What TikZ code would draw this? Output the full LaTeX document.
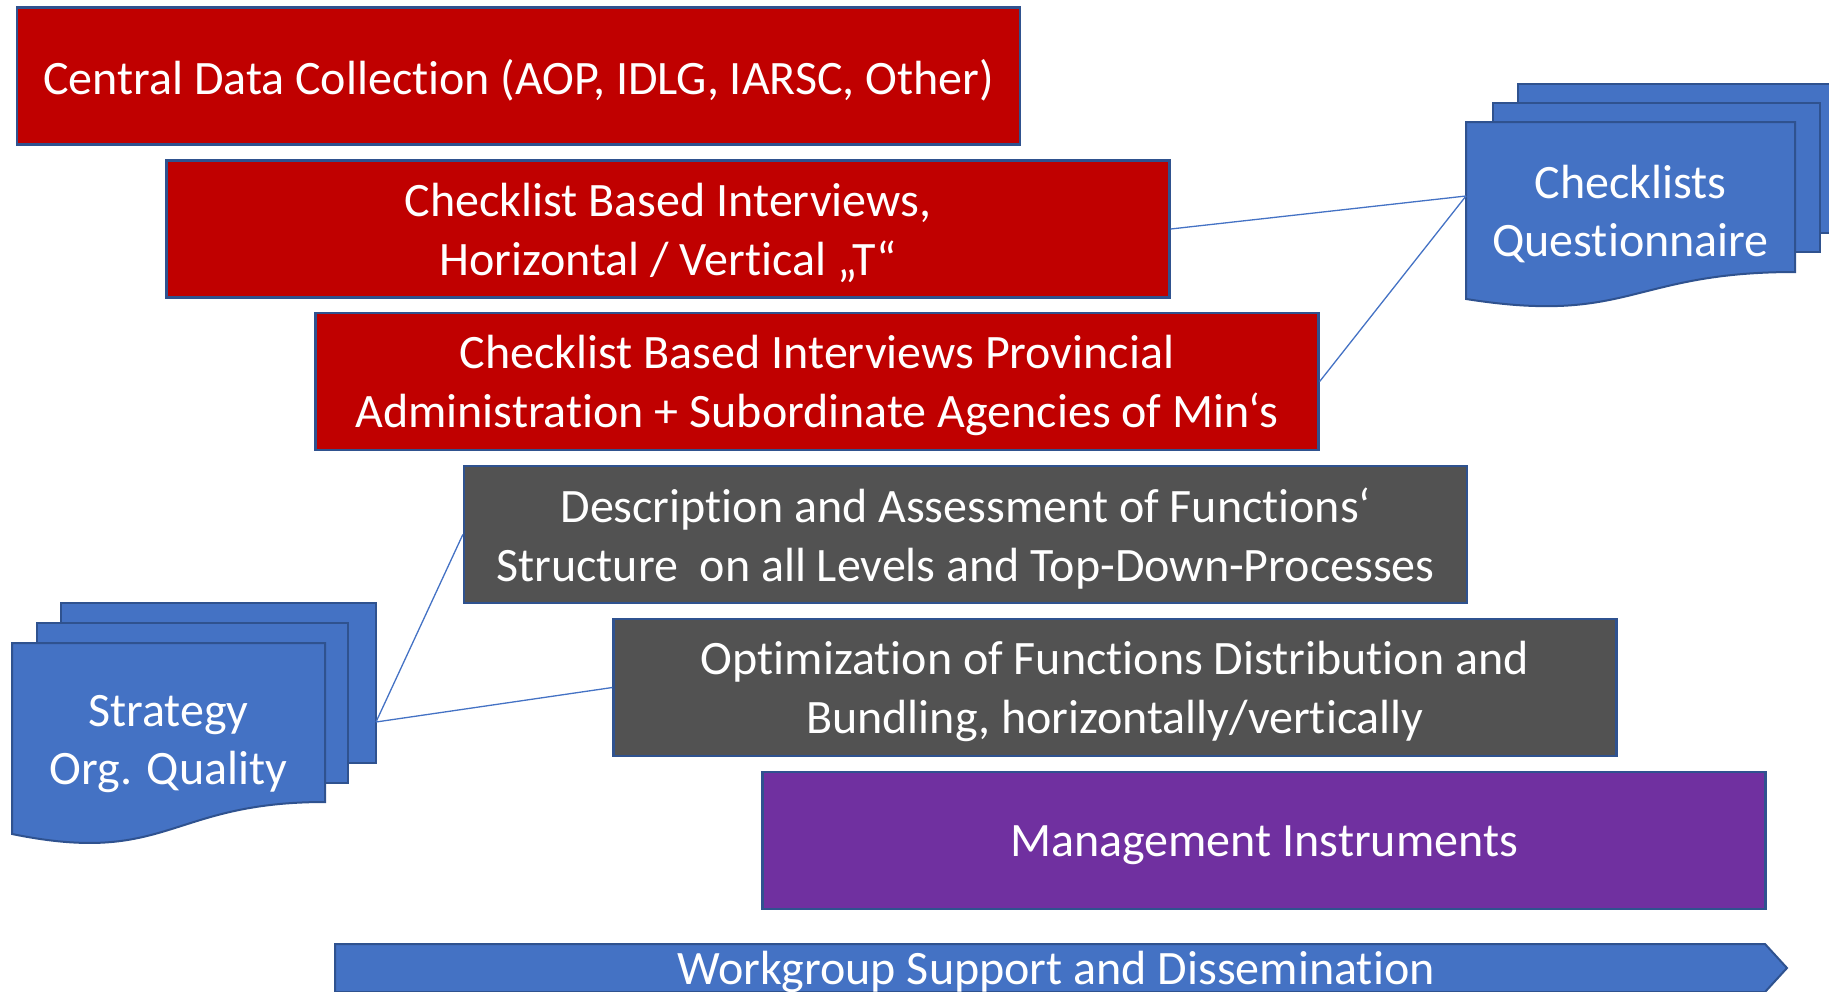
\documentclass[tikz,border=0pt]{standalone}
\usepackage{fontspec}
\setmainfont{Carlito}[Ligatures=NoCommon]
\begin{document}
\definecolor{boxred}{HTML}{C00000}
\definecolor{boxgrey}{HTML}{525252}
\definecolor{boxpurple}{HTML}{7030A0}
\definecolor{docblue}{HTML}{4472C4}
\definecolor{edgeblue}{HTML}{2F528F}
\begin{tikzpicture}[x=1pt,y=-1pt,
  bigfont/.style={font=\fontsize{48}{58.5}\selectfont},
  stage/.style={draw=edgeblue,line width=2.3pt,
    minimum width=1003pt,minimum height=137pt,inner sep=0pt},
  redstage/.style={stage,fill=boxred},
  greystage/.style={stage,fill=boxgrey},
  purplestage/.style={stage,fill=boxpurple},
  stagetext/.style={text=white,align=center,inner sep=0pt,bigfont},
  page/.style={fill=docblue,draw=edgeblue,line width=2pt,line join=miter},
  doctext/.style={text=white,align=center,inner sep=0pt,bigfont},
  link/.style={draw=docblue,line width=1.3pt}]
\useasboundingbox (0,0) rectangle (1829,991);
\clip (0,0) rectangle (1829,991);

% stacked stage boxes
\node[redstage] (b1) at (518.5,76) {};
\node[redstage] (b2) at (668,229) {};
\node[redstage] (b3) at (817,381.5) {};
\node[greystage] (b4) at (965.5,534.5) {};
\node[greystage] (b5) at (1115,687.5) {};
\node[purplestage] (b6) at (1264,840.5) {};

\node[stagetext] (t1) at ([yshift=-4pt]b1.center) {Central Data Collection (AOP, IDLG, IARSC, Other)};
\node[stagetext] (t2) at ([yshift=-4pt]b2.center) {Checklist Based Interviews,\\Horizontal / Vertical „T“};
\node[stagetext] (t3) at ([yshift=-4pt]b3.center) {Checklist Based Interviews Provincial\\Administration + Subordinate Agencies of Min‘s};
\node[stagetext] (t4) at ([yshift=-4pt]b4.center) {Description and Assessment of Functions‘\\Structure\ \ on all Levels and Top-Down-Processes};
\node[stagetext] (t5) at ([yshift=-4pt]b5.center) {Optimization of Functions Distribution and\\Bundling, horizontally/vertically};
\node[stagetext] (t6) at ([yshift=-5pt]b6.center) {Management Instruments};

% multi-document: checklists
\draw[page] (1518,84) rectangle (1847,233);
\draw[page] (1493,103) rectangle (1820,252);
\draw[page] (1466,122) -- (1795,122) -- (1795,272)
  .. controls (1630.5,272) and (1630.5,325) .. (1466,299) -- cycle;
\node[doctext] (chk) at (1630.5,214) {Checklists\\Questionnaire};
\coordinate (chkpin) at (1466,196);

% multi-document: strategy
\draw[page] (61,603) rectangle (376,763);
\draw[page] (37,623) rectangle (348,783);
\draw[page] (12,643) -- (325,643) -- (325,802)
  .. controls (168.5,802) and (168.5,866) .. (12,834) -- cycle;
\node[doctext] (strat) at (168.5,744) {Strategy\\Org. Quality};
\coordinate (stratpin) at (376,722);

% connectors
\draw[link] (b2.east) -- (chkpin);
\draw[link] (b3.east) -- (chkpin);
\draw[link] (stratpin) -- (b4.west);
\draw[link] (stratpin) -- (b5.west);

% bottom banner arrow
\draw[page] (335,944) -- (1765,944) -- (1787,968) -- (1765,992) -- (335,992) -- cycle;
\node[text=white,inner sep=0pt,anchor=base,bigfont] (ws) at (1056,984) {Workgroup Support and Dissemination};
\end{tikzpicture}
\end{document}
